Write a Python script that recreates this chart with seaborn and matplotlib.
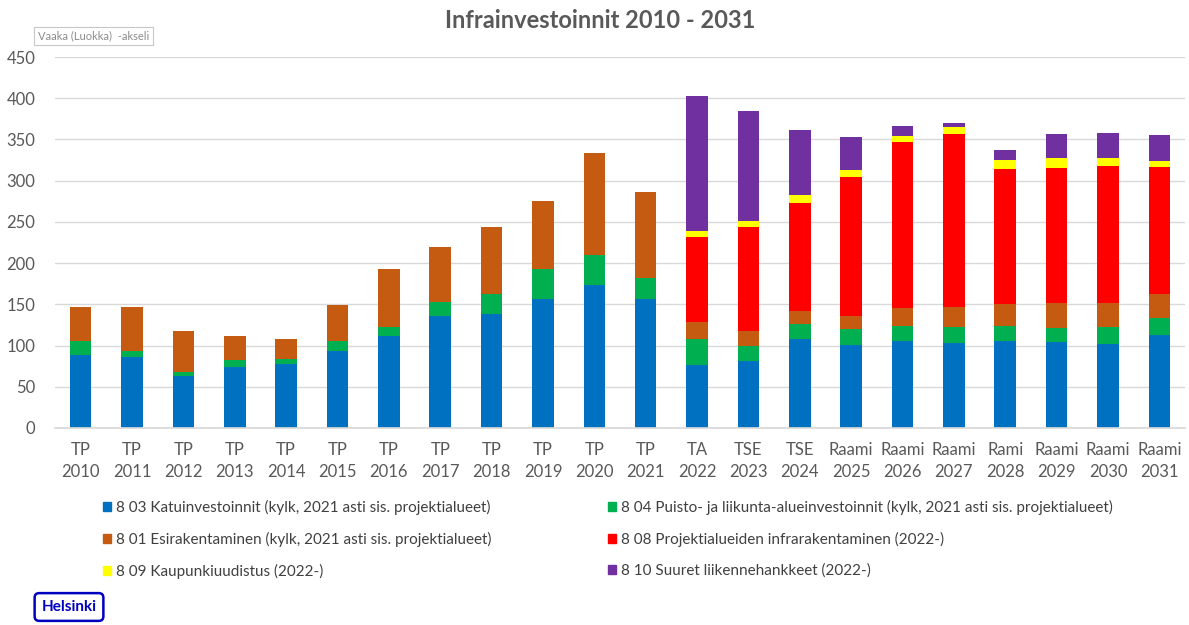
import matplotlib
matplotlib.use("Agg")
import matplotlib.pyplot as plt
import seaborn as sns
import numpy as np

categories = ["TP\n2010", "TP\n2011", "TP\n2012", "TP\n2013", "TP\n2014", "TP\n2015",
              "TP\n2016", "TP\n2017", "TP\n2018", "TP\n2019", "TP\n2020", "TP\n2021",
              "TA\n2022", "TSE\n2023", "TSE\n2024", "Raami\n2025", "Raami\n2026",
              "Raami\n2027", "Rami\n2028", "Raami\n2029", "Raami\n2030", "Raami\n2031"]

katu =    [88, 86, 62.5, 74, 77.5, 93, 111, 136, 138, 157, 173, 157,
           76, 81, 108, 101, 105, 103, 105, 104, 102, 113]
puisto =  [17, 8, 5.5, 8, 6, 12, 11, 16.5, 24, 35.5, 37, 25,
           32, 18, 18.5, 18.5, 19, 20, 19, 17, 20, 21]
esira =   [42, 53, 50, 30, 24.5, 44, 71, 66.5, 82, 83, 124, 104,
           21, 19, 16, 16, 22, 24, 27, 31, 30, 29]
projekti = [0, 0, 0, 0, 0, 0, 0, 0, 0, 0, 0, 0,
            103, 126, 131, 169, 201, 209, 163, 163, 166, 154]
kaupunki = [0, 0, 0, 0, 0, 0, 0, 0, 0, 0, 0, 0,
            7, 7, 9, 9, 7, 9, 11, 12, 10, 7]
suuret =  [0, 0, 0, 0, 0, 0, 0, 0, 0, 0, 0, 0,
           164, 133, 79, 39, 12, 4.5, 12, 29, 30, 31]

series_labels = [
    "8 03 Katuinvestoinnit (kylk, 2021 asti sis. projektialueet)",
    "8 04 Puisto- ja liikunta-alueinvestoinnit (kylk, 2021 asti sis. projektialueet)",
    "8 01 Esirakentaminen (kylk, 2021 asti sis. projektialueet)",
    "8 08 Projektialueiden infrarakentaminen (2022-)",
    "8 09 Kaupunkiuudistus (2022-)",
    "8 10 Suuret liikennehankkeet (2022-)",
]
series_values = [katu, puisto, esira, projekti, kaupunki, suuret]
colors = ["#0070C0", "#00B050", "#C55A11", "#FF0000", "#FFFF00", "#7030A0"]

title = "Infrainvestoinnit 2010 - 2031"
yticks = [0, 50, 100, 150, 200, 250, 300, 350, 400, 450]

sns.set_theme(style="white")
plt.rcParams['font.family'] = ['Lato', 'DejaVu Sans']

fig = plt.figure(figsize=(11.89, 6.25), dpi=100)
ax = fig.add_axes([55/1189, 1-428/625, 1130/1189, (428-57)/625])

bottom = np.zeros(len(categories))
handles = []
for lab, vals, col in zip(series_labels, series_values, colors):
    vals = np.array(vals, dtype=float)
    sns.barplot(x=categories, y=vals, bottom=bottom, color=col, width=0.42,
                order=categories, ax=ax, saturation=1, linewidth=0)
    handles.append(plt.Rectangle((0, 0), 1, 1, color=col))
    bottom = bottom + vals

ax.set_ylim(0, 450)
ax.set_xlim(-0.5, len(categories) - 0.5)
ax.set_yticks(yticks)
ax.yaxis.grid(True, color="#D9D9D9", linewidth=1)
ax.set_axisbelow(True)
for s in ["top", "right", "left"]:
    ax.spines[s].set_visible(False)
ax.spines["bottom"].set_color("#D9D9D9")
ax.tick_params(axis="both", length=0, colors="#595959", labelsize=12)
ax.tick_params(axis="x", pad=10)
ax.tick_params(axis="y", pad=14)
for t in ax.get_xticklabels():
    t.set_linespacing(1.45)
ax.set_xlabel("")
ax.set_ylabel("")

fig.text(0.505, 0.968, title, ha="center", va="center", fontsize=17,
         fontweight="bold", color="#595959")

fig.text(38/1189, 1-36/625, "Vaaka (Luokka)  -akseli", ha="left", va="center",
         fontsize=8, color="#8C8C8C",
         bbox=dict(boxstyle="square,pad=0.35", facecolor="white", edgecolor="#C8C8C8", linewidth=0.8))

order_left = [0, 2, 4]
order_right = [1, 3, 5]
leg_kw = dict(frameon=False, fontsize=11, handlelength=0.55, handleheight=0.55,
              handletextpad=0.3, labelspacing=1.1, labelcolor="#404040")
leg1 = fig.legend([handles[i] for i in order_left], [series_labels[i] for i in order_left],
                  loc="upper left", bbox_to_anchor=(89/1189, 1-486/625), **leg_kw)
leg2 = fig.legend([handles[i] for i in order_right], [series_labels[i] for i in order_right],
                  loc="upper left", bbox_to_anchor=(594/1189, 1-486/625), **leg_kw)

fig.text(69/1189, 1-607/625, "Helsinki", ha="center", va="center", fontsize=11,
         fontweight="bold", color="#0000BF",
         bbox=dict(boxstyle="round,pad=0.45,rounding_size=0.3", facecolor="white",
                   edgecolor="#0000BF", linewidth=1.8))

fig.savefig("out.png", dpi=100)
